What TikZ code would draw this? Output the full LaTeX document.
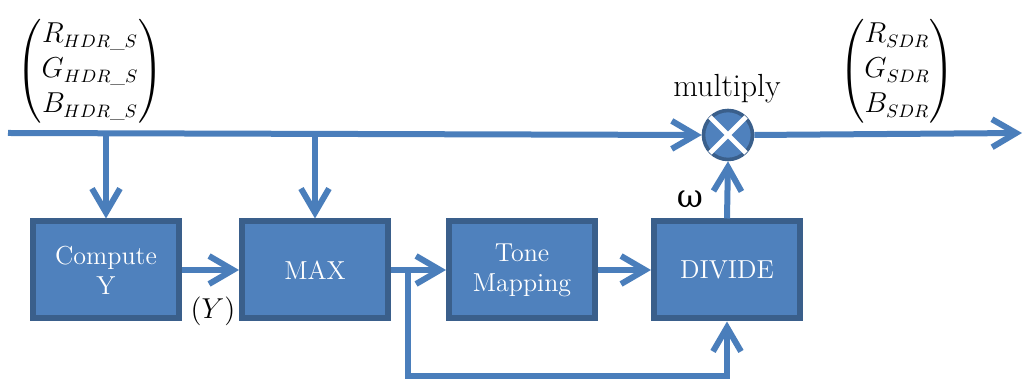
\documentclass[tikz,border=0pt]{standalone}
\usepackage{amsmath}
\usepackage{fontspec}
\newfontfamily\greekface{DejaVu Serif}
\usetikzlibrary{arrows.meta}
\definecolor{flow}{HTML}{4A7EBB}
\definecolor{boxfill}{HTML}{4F81BD}
\definecolor{boxedge}{HTML}{3A5F8B}
\tikzset{
  flowline/.style={draw=flow, line width=3pt},
  arr/.style={flowline, -{Straight Barb[length=12pt,width=14pt]}},
  blk/.style={draw=boxedge, fill=boxfill, line width=3pt, minimum width=73pt,
    minimum height=48.5pt, text=white, align=center,
    font=\fontsize{13}{16}\selectfont},
  mulnode/.style={circle, draw=boxedge, fill=boxfill, line width=1.8pt,
    minimum size=24.5pt, inner sep=0pt},
  vec/.style={inner sep=0pt, font=\fontsize{13.5}{17.5}\selectfont}
}
\begin{document}
\begin{tikzpicture}[x=0.5pt, y=-0.5pt]
\useasboundingbox (0,0) rectangle (1023,383);

% processing blocks
\node[blk] (cy)  at (106,270) {Compute\\[-1pt]Y};
\node[blk] (max) at (315,270) {MAX};
\node[blk] (tm)  at (522,270) {Tone\\[-1pt]Mapping};
\node[blk] (div) at (727,270) {DIVIDE};

% multiplier
\node[mulnode] (mul) at (728,135) {};
\draw[white, line width=2.4pt] (mul.center) ++(-9pt,-9pt) -- ++(18pt,18pt);
\draw[white, line width=2.4pt] (mul.center) ++(-9pt,9pt) -- ++(18pt,-18pt);
\node[font=\fontsize{16}{18}\selectfont] (multxt) at (727,89) {multiply};

% signal path ends
\coordinate (start) at (8,133);
\coordinate (end) at (1022,133);
\coordinate (br) at (408,272);
\coordinate (low) at (408,376);

% main line
\draw[arr] (start) -- (mul.west);
\draw[arr] (mul.east) -- (end);

% taps into the blocks
\draw[arr] (cy.north |- start) -- (cy.north);
\draw[arr] (max.north |- start) -- (max.north);

% block chain
\draw[arr] (cy.east) -- (max.west);
\draw[arr] (max.east) -- (tm.west);
\draw[arr] (tm.east) -- (div.west);
\draw[arr] (br) -- (low) -| (div.south);
\draw[arr] (div.north) -- (mul.south);

% labels
\node[vec] (vin) at (90,71)
  {$\begin{pmatrix} R_{HDR\_S}\\ G_{HDR\_S}\\ B_{HDR\_S} \end{pmatrix}$};
\node[vec] (vout) at (897,71)
  {$\begin{pmatrix} R_{SDR}\\ G_{SDR}\\ B_{SDR} \end{pmatrix}$};
\node[font=\fontsize{14}{16}\selectfont] (ylab) at (213,311) {$(Y)$};
\node[font=\greekface\fontsize{16}{18}\selectfont] (omega) at (690,199) {ω};
\end{tikzpicture}
\end{document}
